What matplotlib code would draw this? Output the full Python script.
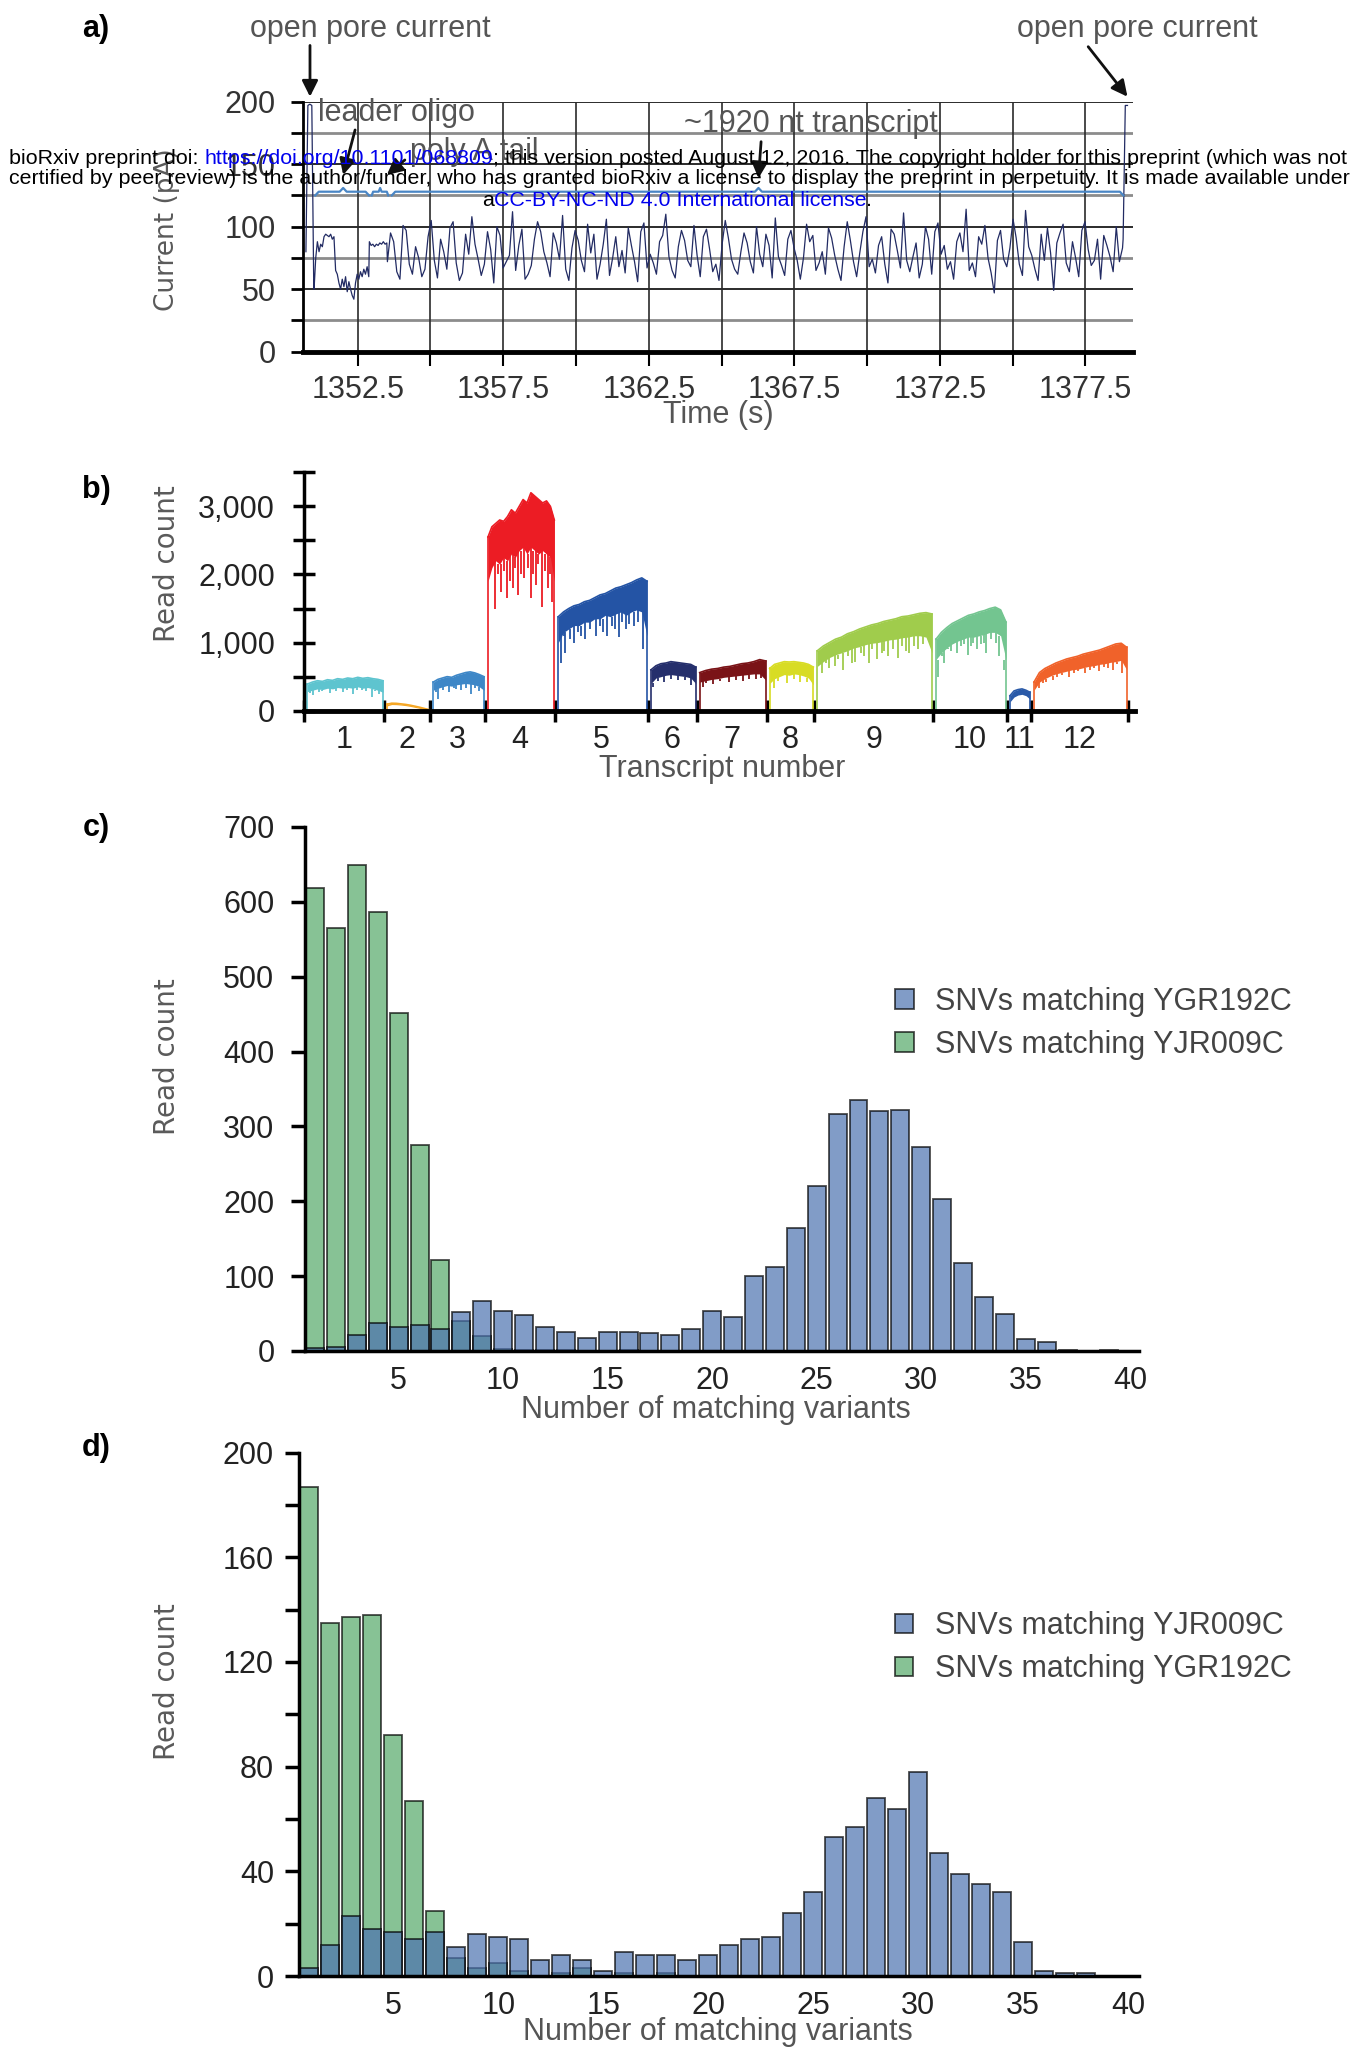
import numpy as np
import matplotlib.pyplot as plt

W, H = 1365, 2048
plt.rcParams['font.family'] = ['Liberation Sans', 'DejaVu Sans']
TICK_FS = 22
GRAY = '#555555'

# ---------------- panel a data: nanopore current trace ----------------
pore_left_t = (1350.72, 1350.99)
pore_left = [80, 197, 198, 197, 50]
leader_t = (1351.0, 1352.88)
leader = [50, 75, 88, 80, 86, 84, 92, 94, 93, 92, 94, 90, 92, 65, 62, 55, 50,
          58, 52, 60, 48, 56, 50, 45, 42, 55, 62, 58, 64, 60, 66, 62, 68, 60]
polya_t = (1352.9, 1353.5)
polya = [88, 85, 86, 84, 86, 85, 87, 86, 88, 86, 87]
transcript_t = (1353.52, 1378.78)
transcript = [
    72, 95, 88, 64, 58, 101, 97, 70, 62, 84, 75, 60, 66, 92, 105, 73, 59, 90, 80, 66,
    99, 104, 71, 57, 63, 94, 78, 108, 86, 74, 61, 70, 96, 82, 55, 100, 93, 67, 72, 77,
    112, 65, 85, 98, 58, 62, 69, 90, 104, 96, 80, 71, 60, 95, 87, 74, 109, 66, 57, 83,
    97, 89, 73, 64, 102, 79, 94, 58, 70, 86, 106, 61, 75, 92, 68, 81, 63, 99, 85, 72,
    56, 96, 103, 67, 78, 71, 62, 88, 93, 110, 76, 65, 59, 84, 97, 89, 73, 68, 101, 77,
    60, 92, 98, 82, 64, 70, 57, 86, 105, 91, 74, 66, 62, 80, 95, 87, 72, 63, 100, 78,
    68, 94, 85, 59, 107, 76, 69, 61, 90, 97, 83, 73, 58, 75, 102, 88, 93, 65, 71, 80,
    62, 99, 91, 77, 66, 57, 84, 104, 89, 72, 60, 79, 96, 108, 68, 74, 63, 85, 92, 70,
    55, 98, 94, 81, 67, 111, 73, 64, 76, 87, 59, 70, 100, 90, 62, 96, 103, 78, 85, 66,
    72, 58, 88, 95, 80, 114, 65, 71, 60, 92, 86, 101, 75, 63, 47, 89, 97, 74, 68, 83,
    106, 91, 70, 61, 113, 84, 77, 66, 57, 94, 73, 99, 79, 49, 87, 95, 102, 71, 64, 88,
    75, 60, 97, 104, 82, 69, 73, 90, 58, 93, 85, 76, 64, 100, 72, 83]
pore_right_t = (1378.8, 1378.95)
pore_right = [90, 197, 197]

# bracket spans (start, cusp, end) in seconds
brackets = [(1351.04, 1352.0, 1352.89), (1352.98, 1353.27, 1353.55), (1353.67, 1366.27, 1378.81)]

# ---------------- panel b data: coverage per transcript ----------------
tx_names = [str(i) for i in range(1, 13)]
tx_len = [1594, 926, 1094, 1406, 1854, 974, 1400, 952, 2374, 1480, 480, 1934]
tx_colors = ['#5ec4cf', '#f5a623', '#3e87c7', '#ec1c24', '#2454a5', '#252f6c',
             '#7a1317', '#d8dc24', '#a0cc4c', '#73c590', '#2a5aa8', '#f0622a']
tx_top = [
    [390, 420, 440, 430, 455, 445, 470, 460, 480, 470, 490, 475, 485, 470, 460, 440],
    [95, 110, 108, 100, 92, 80, 65, 50, 32, 15],
    [420, 460, 480, 500, 490, 520, 540, 560, 570, 555, 530, 500],
    [2550, 2700, 2750, 2800, 2780, 2850, 2950, 2900, 3000, 3100, 3050, 3200, 3150, 3100, 3050, 3080, 3000, 2800],
    [1380, 1450, 1500, 1540, 1560, 1600, 1620, 1660, 1700, 1720, 1760, 1800, 1820, 1850, 1880, 1920, 1950, 1900],
    [600, 660, 690, 700, 720, 710, 700, 690, 680, 640],
    [560, 590, 610, 620, 640, 650, 670, 690, 700, 720, 750, 730],
    [620, 680, 700, 720, 715, 720, 710, 700, 680, 640],
    [880, 950, 1000, 1050, 1080, 1130, 1160, 1200, 1230, 1260, 1280, 1310, 1330, 1350, 1380, 1390, 1410, 1430, 1440, 1420],
    [1050, 1150, 1220, 1280, 1320, 1360, 1400, 1420, 1450, 1470, 1500, 1520, 1480, 1300],
    [220, 290, 310, 320, 300, 270],
    [420, 560, 620, 660, 700, 730, 760, 780, 800, 830, 850, 870, 890, 920, 950, 980, 990, 930]]
tx_low = [
    [280, 300, 320, 310, 330, 320, 340, 330, 340, 330, 350, 330, 340, 320, 300, 270],
    [70, 90, 88, 82, 74, 62, 48, 34, 18, 5],
    [300, 330, 350, 370, 360, 380, 390, 400, 390, 380, 350, 300],
    [1900, 2100, 2200, 2150, 2250, 2200, 2300, 2250, 2350, 2400, 2300, 2400, 2350, 2300, 2350, 2300, 2250, 1900],
    [1000, 1150, 1200, 1250, 1250, 1300, 1300, 1350, 1350, 1400, 1380, 1420, 1450, 1400, 1450, 1480, 1450, 1100],
    [400, 480, 500, 520, 530, 520, 510, 500, 480, 400],
    [420, 440, 460, 470, 490, 500, 510, 520, 530, 540, 540, 450],
    [400, 470, 500, 530, 520, 540, 530, 510, 480, 380],
    [650, 720, 780, 820, 850, 880, 920, 940, 970, 990, 1000, 1020, 1040, 1050, 1070, 1080, 1100, 1100, 1080, 850],
    [750, 850, 920, 980, 1020, 1050, 1080, 1080, 1100, 1120, 1150, 1150, 1100, 750],
    [130, 200, 230, 240, 220, 170],
    [300, 420, 470, 510, 540, 560, 580, 600, 610, 630, 650, 660, 680, 690, 710, 720, 740, 600]]
tx_dips = [
    [(0.04, 260), (0.08, 230), (0.15, 280), (0.2, 290), (0.3, 260), (0.38, 290), (0.47, 280),
     (0.53, 300), (0.6, 240), (0.66, 300), (0.72, 300), (0.78, 290), (0.85, 200), (0.9, 290), (0.95, 250)],
    [],
    [(0.05, 280), (0.1, 170), (0.2, 310), (0.3, 280), (0.4, 330), (0.45, 320), (0.55, 300),
     (0.65, 340), (0.75, 250), (0.83, 330), (0.9, 290)],
    [(0.05, 2100), (0.1, 1500), (0.15, 2000), (0.2, 1750), (0.24, 2050), (0.28, 1650), (0.33, 1900),
     (0.38, 1800), (0.41, 2100), (0.45, 1700), (0.5, 2000), (0.55, 1950), (0.6, 2100), (0.65, 1650),
     (0.68, 2000), (0.72, 1850), (0.76, 2150), (0.82, 1520), (0.86, 2050), (0.9, 1800), (0.93, 2000),
     (0.97, 1600)],
    [(0.03, 700), (0.06, 1100), (0.08, 850), (0.13, 1050), (0.18, 1000), (0.22, 1150), (0.26, 1100),
     (0.3, 1050), (0.36, 1200), (0.42, 1100), (0.47, 1250), (0.5, 1150), (0.55, 1100), (0.6, 1250),
     (0.64, 1200), (0.68, 1080), (0.72, 1300), (0.76, 1200), (0.8, 1280), (0.85, 1250), (0.9, 1300),
     (0.96, 900)],
    [(0.05, 350), (0.15, 440), (0.3, 420), (0.45, 460), (0.6, 450), (0.75, 450), (0.9, 380)],
    [(0.05, 350), (0.1, 400), (0.2, 390), (0.3, 430), (0.45, 420), (0.55, 450), (0.65, 440),
     (0.75, 470), (0.85, 470), (0.93, 480)],
    [(0.1, 330), (0.2, 430), (0.4, 400), (0.55, 460), (0.7, 420), (0.85, 420)],
    [(0.04, 560), (0.08, 700), (0.1, 620), (0.15, 650), (0.18, 760), (0.22, 600), (0.27, 800),
     (0.3, 700), (0.33, 720), (0.38, 850), (0.41, 800), (0.45, 700), (0.48, 900), (0.52, 760),
     (0.56, 850), (0.58, 880), (0.62, 800), (0.66, 900), (0.7, 780), (0.74, 950), (0.77, 880),
     (0.8, 850), (0.84, 950), (0.88, 900), (0.92, 980)],
    [(0.03, 500), (0.08, 800), (0.12, 700), (0.17, 900), (0.22, 880), (0.3, 850), (0.35, 950),
     (0.4, 980), (0.45, 820), (0.5, 950), (0.53, 1000), (0.58, 900), (0.64, 980), (0.68, 1000),
     (0.72, 850), (0.78, 1050), (0.85, 1000), (0.9, 800), (0.97, 600)],
    [],
    [(0.05, 330), (0.1, 400), (0.13, 420), (0.2, 450), (0.25, 500), (0.3, 520), (0.38, 500),
     (0.43, 560), (0.48, 580), (0.55, 560), (0.6, 600), (0.65, 620), (0.7, 580), (0.76, 640),
     (0.8, 620), (0.85, 600), (0.9, 680), (0.95, 550)]]

# ---------------- panels c/d data: histograms (bins 1..40) ----------------
bins = np.arange(1, 41)
c_ygr = [4, 6, 22, 37, 32, 35, 30, 52, 67, 53, 48, 32, 26, 18, 25, 26, 24, 22, 30, 54,
         46, 100, 112, 164, 220, 316, 335, 321, 322, 272, 203, 117, 72, 50, 16, 12, 2, 0, 1, 0]
c_yjr = [619, 565, 649, 586, 452, 275, 122, 40, 20, 3, 1, 1, 2, 0, 0, 1, 0, 0, 0, 0,
         0, 0, 0, 0, 0, 0, 0, 0, 0, 0, 0, 0, 0, 0, 0, 0, 0, 0, 0, 0]
d_yjr = [3, 12, 23, 18, 17, 14, 17, 11, 16, 15, 14, 6, 8, 6, 2, 9, 8, 8, 6, 8,
         12, 14, 15, 24, 32, 53, 57, 68, 64, 78, 47, 39, 35, 32, 13, 2, 1, 1, 0, 0]
d_ygr = [187, 135, 137, 138, 92, 67, 25, 7, 3, 5, 2, 0, 1, 3, 0, 1, 0, 1, 0, 0,
         0, 0, 0, 0, 0, 0, 0, 0, 0, 0, 0, 0, 0, 0, 0, 0, 0, 0, 0, 0]

BLUE = '#4c72b0'
GREEN = '#55a868'

fig = plt.figure(figsize=(W / 100, H / 100), dpi=100)


def box(left, top, right, bottom):
    return [left / W, 1 - bottom / H, (right - left) / W, (bottom - top) / H]


def ylab(ax, text, x, y, size=20):
    ax.set_ylabel(text, fontsize=size, color='#5a5a5a', family=['DejaVu Sans'])
    ax.yaxis.label.set_va('center')
    ax.yaxis.set_label_coords(x, y)


def xlab(ax, text, x, y):
    ax.set_xlabel(text, fontsize=22, color=GRAY)
    ax.xaxis.label.set_va('center')
    ax.xaxis.set_label_coords(x, y)


# ================= panel a =================
axa = fig.add_axes(box(303.3, 101.7, 1133.3, 351.7))
t = np.concatenate([np.linspace(*pore_left_t, len(pore_left)),
                    np.linspace(*leader_t, len(leader)),
                    np.linspace(*polya_t, len(polya)),
                    np.linspace(*transcript_t, len(transcript)),
                    np.linspace(*pore_right_t, len(pore_right))])
cur = np.concatenate([pore_left, leader, polya, transcript, pore_right])
axa.set_xlim(1350.63, 1379.15)
axa.set_ylim(0, 200)
for v in [25, 75, 125, 175]:
    axa.axhline(v, color='#8c8c8c', lw=2, zorder=1)
for v in [50, 100, 150, 200]:
    axa.axhline(v, color='#2b2b2b', lw=1.4, zorder=1)
xt = np.arange(1352.5, 1378.0, 2.5)
for v in xt:
    axa.axvline(v, color='#2b2b2b', lw=1.2, zorder=1)
axa.plot(t, cur, color='#222b63', lw=0.9, zorder=3)
for s, c, e in brackets:
    d = 0.12 if e - s > 1 else 0.05
    axa.plot([s, s + d, c - d, c, c + d, e - d, e], [125, 128, 128, 131, 128, 128, 125],
             color='#4a86c5', lw=1.6, zorder=4, clip_on=False)
for sp in ['top', 'right']:
    axa.spines[sp].set_visible(False)
axa.spines['left'].set_linewidth(2)
axa.spines['bottom'].set_linewidth(3.5)
axa.set_xticks(xt)
axa.set_xticklabels([('%.1f' % v) if i % 2 == 0 else '' for i, v in enumerate(xt)])
axa.set_yticks(np.arange(0, 201, 25))
axa.set_yticklabels([str(v) if v % 50 == 0 else '' for v in range(0, 201, 25)])
axa.tick_params(axis='x', length=10, width=1.5, pad=7, labelsize=TICK_FS, labelcolor='#333')
axa.tick_params(axis='y', length=9, width=2, pad=11, labelsize=TICK_FS, labelcolor='#333')
xlab(axa, 'Time (s)', 0.4996, -0.253)
ylab(axa, 'Current (pA)', -0.164, 0.487, size=19)

arrow = dict(arrowstyle='-|>', color='#111111', lw=2, mutation_scale=24, shrinkA=0, shrinkB=0)
axa.annotate('', xy=(1350.86, 204), xytext=(1350.86, 245), arrowprops=arrow, annotation_clip=False)
axa.annotate('', xy=(1378.95, 204), xytext=(1377.6, 244), arrowprops=arrow, annotation_clip=False)
axa.annotate('', xy=(1352.0, 141.4), xytext=(1352.41, 177.4), arrowprops=arrow, annotation_clip=False)
axa.annotate('', xy=(1353.5, 141.4), xytext=(1354.12, 153.4), arrowprops=arrow, annotation_clip=False)
axa.annotate('', xy=(1366.27, 138.7), xytext=(1366.36, 168), arrowprops=arrow, annotation_clip=False)
axa.text(1352.92, 258, 'open pore current', fontsize=22, color=GRAY, ha='center', va='center', clip_on=False)
axa.text(1379.29, 258, 'open pore current', fontsize=22, color=GRAY, ha='center', va='center', clip_on=False)
axa.text(1351.13, 191, 'leader oligo', fontsize=22, color=GRAY, ha='left', va='center', zorder=5)
axa.text(1354.30, 160, 'poly A tail', fontsize=22, color=GRAY, ha='left', va='center', zorder=5)
axa.text(1368.07, 182, '~1920 nt transcript', fontsize=22, color=GRAY, ha='center', va='center', zorder=5)

# ================= panel b =================
axb = fig.add_axes(box(304.3, 472.3, 1135, 710.7))
edges = np.concatenate([[0], np.cumsum(tx_len)])
for i in range(len(tx_len)):
    s, e = edges[i] + 60, edges[i + 1] - 20
    top, low = tx_top[i], tx_low[i]
    x = np.linspace(s, e, len(top))
    col = tx_colors[i]
    axb.fill_between(x, low, top, color=col, lw=0)
    axb.plot(x, top, color=col, lw=1.2)
    axb.plot([s, s], [0, top[0]], color=col, lw=1.2)
    axb.plot([e, e], [0, top[-1]], color=col, lw=1.2)
    for f, v in tx_dips[i]:
        k = int(round(f * (len(top) - 1)))
        axb.vlines(s + f * (e - s), v, low[k], color=col, lw=1.3)
axb.set_xlim(0, edges[-1] + 146)
axb.set_ylim(0, 3500)
for sp in ['top', 'right']:
    axb.spines[sp].set_visible(False)
axb.spines['left'].set_linewidth(2.5)
axb.spines['bottom'].set_linewidth(3.5)
axb.set_yticks([0, 1000, 2000, 3000])
axb.set_yticklabels(['0', '1,000', '2,000', '3,000'])
axb.set_yticks([500, 1500, 2500, 3500], minor=True)
axb.tick_params(axis='y', which='both', direction='inout', length=16, width=2.5, pad=13,
                labelsize=TICK_FS, labelcolor='#222')
axb.set_xticks((edges[:-1] + edges[1:]) / 2)
axb.set_xticklabels(tx_names)
axb.set_xticks(edges, minor=True)
axb.tick_params(axis='x', which='major', length=0, pad=10, labelsize=TICK_FS, labelcolor='#222')
axb.tick_params(axis='x', which='minor', direction='inout', length=16, width=2.5)
xlab(axb, 'Transcript number', 0.503, -0.2446)
ylab(axb, 'Read count', -0.165, 0.615)


# ================= panels c / d =================
def hist_panel(ax, green, blue, glabel, blabel, xlim, ymax, ymajor, yminor, ypad, leg_xy):
    ax.bar(bins, green, width=0.86, color=GREEN, alpha=0.7, edgecolor='black', lw=1.3, label=glabel)
    ax.bar(bins, blue, width=0.86, color=BLUE, alpha=0.7, edgecolor='black', lw=1.3, label=blabel)
    ax.set_xlim(*xlim)
    ax.set_ylim(0, ymax)
    for sp in ['top', 'right']:
        ax.spines[sp].set_visible(False)
    ax.spines['left'].set_linewidth(2.5)
    ax.spines['bottom'].set_linewidth(2.5)
    ax.set_xticks(np.arange(5, 41, 5))
    ax.set_yticks(ymajor)
    if yminor is not None:
        ax.set_yticks(yminor, minor=True)
    ax.tick_params(axis='y', which='both', length=10, width=2.5, pad=ypad, labelsize=TICK_FS, labelcolor='#222')
    ax.tick_params(axis='x', length=0, pad=11, labelsize=TICK_FS, labelcolor='#222')
    hs, ls = ax.get_legend_handles_labels()
    ax.legend(hs[::-1], ls[::-1], loc='upper left', bbox_to_anchor=leg_xy, frameon=False,
              fontsize=22, labelcolor='#444444', handlelength=0.6, handleheight=0.6,
              handletextpad=0.7, labelspacing=0.42, borderpad=0, borderaxespad=0)


axc = fig.add_axes(box(305, 827, 1138.6, 1351))
hist_panel(axc, c_yjr, c_ygr, 'SNVs matching YJR009C', 'SNVs matching YGR192C',
           (0.52, 40.4), 700, np.arange(0, 701, 100), None, 12, (0.708, 0.695))
xlab(axc, 'Number of matching variants', 0.493, -0.1126)
ylab(axc, 'Read count', -0.1655, 0.561)

axd = fig.add_axes(box(299, 1452.6, 1138.6, 1976))
hist_panel(axd, d_ygr, d_yjr, 'SNVs matching YGR192C', 'SNVs matching YJR009C',
           (0.51, 40.5), 200, np.arange(0, 201, 40), np.arange(20, 200, 40), 8, (0.71, 0.697))
xlab(axd, 'Number of matching variants', 0.499, -0.107)
ylab(axd, 'Read count', -0.157, 0.562)

# panel letters
for lab, y in [('a)', 29), ('b)', 490), ('c)', 828), ('d)', 1448)]:
    fig.text(96 / W, 1 - y / H, lab, fontsize=22, fontweight='bold', ha='center', va='center')

# ================= bioRxiv stamp =================
renderer = fig.canvas.get_renderer()
LINK = '#0000ee'
line1 = [('bioRxiv preprint doi: ', 'black'), ('https://doi.org/10.1101/068809', LINK),
         ('; this version posted August 12, 2016. The copyright holder for this preprint (which was not', 'black')]
line2 = [('certified by peer review) is the author/funder, who has granted bioRxiv a license to display the preprint in perpetuity. It is made available under', 'black')]
line3 = [('a', 'black'), ('CC-BY-NC-ND 4.0 International license', LINK), ('.', 'black')]


def text_width(s, size):
    tt = fig.text(0, 0, s, fontsize=size)
    w = tt.get_window_extent(renderer).width
    tt.remove()
    return w


full1 = ''.join(s for s, _ in line1)
wm_size = 10 * 1338 / text_width(full1, 10)


def put_runs(runs, x_px, y_px, size):
    done = ''
    base = text_width('I', size)
    for s, col in runs:
        off = text_width(done + 'I', size) - base if done else 0
        fig.text((x_px + off) / W, 1 - y_px / H, s, fontsize=size, color=col, ha='left', va='center', zorder=10)
        done += s


put_runs(line1, 9, 158, wm_size)
put_runs(line2, 9, 179, wm_size)
put_runs(line3, 482, 200, wm_size)

fig.savefig('out.png', dpi=100)
